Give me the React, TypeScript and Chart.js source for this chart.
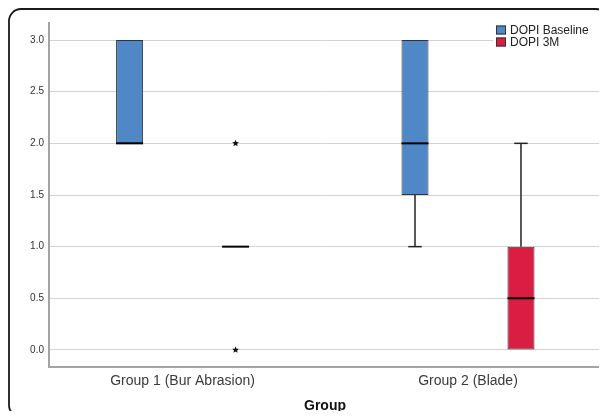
import React, { useEffect, useRef } from 'react';
import { Chart, registerables } from 'chart.js';

Chart.register(...registerables);

// ---- data ----
const categories = ['Group 1 (Bur Abrasion)', 'Group 2 (Blade)'];
const categoryPositions = [1, 2];
const seriesNames = ['DOPI Baseline', 'DOPI 3M'];
const seriesColors = ['#4F87C7', '#DA1D42'];

const baselineMin = [2, 1];
const baselineQ1 = [2, 1.5];
const baselineMedian = [2, 2];
const baselineQ3 = [3, 3];
const baselineMax = [3, 3];
const baselineExtremes: number[][] = [[], []];

const m3Min = [1, 0];
const m3Q1 = [1, 0];
const m3Median = [1, 0.5];
const m3Q3 = [1, 1];
const m3Max = [1, 2];
const m3Extremes: number[][] = [[0, 2], []];

const yTicks = [0, 0.5, 1, 1.5, 2, 2.5, 3];
const yMin = -0.165;
const yMax = 3.165;
const xMin = 0.532;
const xMax = 2.466;
const xTitle = 'Group';

const FONT = "'Liberation Sans', Arial, sans-serif";

function drawStar(ctx: CanvasRenderingContext2D, cx: number, cy: number, r: number) {
  const inner = r * 0.45;
  ctx.beginPath();
  for (let k = 0; k < 10; k++) {
    const rad = k % 2 === 0 ? r : inner;
    const a = -Math.PI / 2 + (k * Math.PI) / 5;
    const px = cx + rad * Math.cos(a);
    const py = cy + rad * Math.sin(a);
    if (k === 0) ctx.moveTo(px, py);
    else ctx.lineTo(px, py);
  }
  ctx.closePath();
  ctx.fill();
}

const boxPlugin = {
  id: 'boxExtras',
  afterDatasetsDraw(chart: any) {
    const ctx: CanvasRenderingContext2D = chart.ctx;
    const ys = chart.scales.y;
    const py = (v: number) => ys.getPixelForValue(v);
    chart.data.datasets.forEach((ds: any, d: number) => {
      const s = ds.stats;
      const meta = chart.getDatasetMeta(d);
      meta.data.forEach((el: any, i: number) => {
        const x = el.x;
        const w = el.width;
        ctx.save();
        ctx.strokeStyle = '#222';
        ctx.lineWidth = 1.5;
        const whisker = (from: number, to: number) => {
          if (from === to) return;
          ctx.beginPath();
          ctx.moveTo(x, py(from));
          ctx.lineTo(x, py(to));
          ctx.stroke();
          ctx.beginPath();
          ctx.moveTo(x - w / 4, py(to));
          ctx.lineTo(x + w / 4, py(to));
          ctx.stroke();
        };
        whisker(s.q3[i], s.max[i]);
        whisker(s.q1[i], s.min[i]);
        // median
        ctx.strokeStyle = '#000';
        ctx.lineWidth = 2;
        ctx.beginPath();
        ctx.moveTo(x - w / 2, py(s.median[i]));
        ctx.lineTo(x + w / 2, py(s.median[i]));
        ctx.stroke();
        // extremes
        ctx.fillStyle = '#111';
        (s.extremes[i] || []).forEach((v: number) => drawStar(ctx, x, py(v), 3.6));
        ctx.restore();
      });
    });
  },
  afterDraw(chart: any) {
    const ctx: CanvasRenderingContext2D = chart.ctx;
    const area = chart.chartArea;
    ctx.save();
    // legend
    const bgx = area.right - 108;
    ctx.fillStyle = '#fff';
    ctx.fillRect(bgx, area.top + 1, 108, 26);
    const sqx = area.right - 105;
    ctx.font = `12px ${FONT}`;
    ctx.textBaseline = 'middle';
    ctx.textAlign = 'left';
    seriesNames.forEach((name, k) => {
      const sy = area.top + 7 + k * 12;
      ctx.fillStyle = seriesColors[k];
      ctx.fillRect(sqx, sy - 4.5, 10, 9);
      ctx.strokeStyle = '#333';
      ctx.lineWidth = 1;
      ctx.strokeRect(sqx + 0.5, sy - 4, 9, 8);
      ctx.fillStyle = '#222';
      ctx.fillText(name, sqx + 14, sy + 1);
    });
    // frame
    const x0 = 1, y0 = 1, x1 = 600, y1 = 409, r = 12;
    ctx.strokeStyle = '#1a1a1a';
    ctx.lineWidth = 1.8;
    ctx.beginPath();
    ctx.moveTo(x0 + r, y0);
    ctx.lineTo(x1 - r, y0);
    ctx.arcTo(x1, y0, x1, y0 + r, r);
    ctx.lineTo(x1, y1 - r);
    ctx.arcTo(x1, y1, x1 - r, y1, r);
    ctx.lineTo(x0 + r, y1);
    ctx.arcTo(x0, y1, x0, y1 - r, r);
    ctx.lineTo(x0, y0 + r);
    ctx.arcTo(x0, y0, x0 + r, y0, r);
    ctx.closePath();
    ctx.stroke();
    ctx.restore();
  },
};

export default function App() {
  const ref = useRef<HTMLCanvasElement | null>(null);

  useEffect(() => {
    if (!ref.current) return;
    const mk = (q1: number[], q3: number[]) =>
      categoryPositions.map((x, i) => ({ x, y: [q1[i], q3[i]] }));
    const chart = new Chart(ref.current, {
      type: 'bar',
      data: {
        datasets: [
          {
            label: seriesNames[0],
            data: mk(baselineQ1, baselineQ3) as any,
            backgroundColor: seriesColors[0],
            borderColor: '#333',
            borderWidth: 1,
            borderSkipped: false,
            barPercentage: 0.255,
            categoryPercentage: 0.7426,
            stats: { min: baselineMin, q1: baselineQ1, median: baselineMedian, q3: baselineQ3, max: baselineMax, extremes: baselineExtremes },
          } as any,
          {
            label: seriesNames[1],
            data: mk(m3Q1, m3Q3) as any,
            backgroundColor: seriesColors[1],
            borderColor: '#333',
            borderWidth: 1,
            borderSkipped: false,
            barPercentage: 0.255,
            categoryPercentage: 0.7426,
            stats: { min: m3Min, q1: m3Q1, median: m3Median, q3: m3Q3, max: m3Max, extremes: m3Extremes },
          } as any,
        ],
      },
      options: {
        animation: false,
        responsive: false,
        devicePixelRatio: 1,
        layout: { padding: { top: 15, right: 6, left: 0, bottom: 0 } },
        plugins: { legend: { display: false }, tooltip: { enabled: false } },
        scales: {
          x: {
            type: 'linear',
            min: xMin,
            max: xMax,
            offset: false,
            grid: { display: true, color: 'rgba(0,0,0,0)', drawTicks: false, offset: false },
            border: { display: true, color: '#a3a3a3', width: 2 },
            afterBuildTicks: (scale: any) => {
              scale.ticks = categoryPositions.map((v) => ({ value: v }));
            },
            afterFit: (scale: any) => {
              scale.height = 52;
            },
            ticks: {
              padding: 6,
              color: '#3a3a3a',
              font: { family: FONT, size: 14 },
              maxRotation: 0,
              autoSkip: false,
              callback: (_v: any, idx: number) => categories[idx],
            },
            title: {
              display: true,
              text: xTitle,
              color: '#111',
              font: { family: FONT, size: 14, weight: 'bold' },
              padding: { top: 0, bottom: 4 },
            },
          } as any,
          y: {
            type: 'linear',
            min: yMin,
            max: yMax,
            grid: { color: '#d2d2d2', lineWidth: 1, drawTicks: false },
            border: { display: true, color: '#a3a3a3', width: 2 },
            afterBuildTicks: (scale: any) => {
              scale.ticks = yTicks.map((v) => ({ value: v }));
            },
            afterFit: (scale: any) => {
              scale.width = 41;
            },
            ticks: {
              padding: 5,
              color: '#333',
              font: { family: FONT, size: 10 },
              callback: (v: any) => Number(v).toFixed(1),
            },
          } as any,
        },
      },
      plugins: [boxPlugin as any],
    });
    return () => chart.destroy();
  }, []);

  return (
    <div style={{ width: 599, height: 411, marginBottom: -8, overflow: 'hidden' }}>
      <canvas ref={ref} width={599} height={411} style={{ display: 'block', width: 599, height: 411 }} />
    </div>
  );
}
